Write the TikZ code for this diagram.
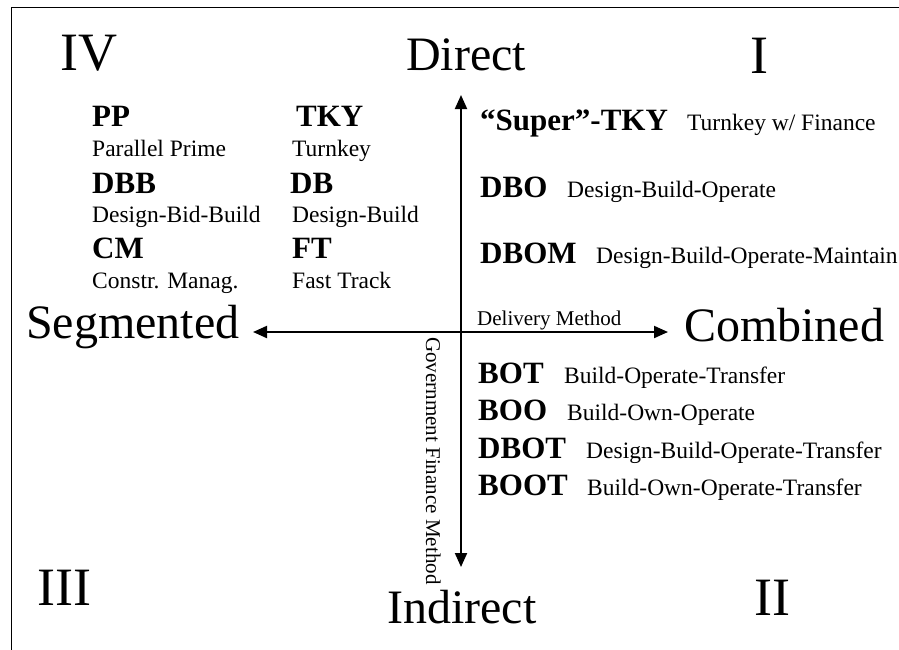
\documentclass[tikz,border=0pt]{standalone}
\usepackage{fontspec}
\setmainfont{Liberation Serif}
\usetikzlibrary{arrows.meta}
\begin{document}
\begin{tikzpicture}[x=1pt, y=-1pt,
    quad/.style={anchor=base west, inner sep=0pt, font=\fontsize{54}{60}\selectfont},
    pole/.style={anchor=base west, inner sep=0pt, font=\fontsize{48}{54}\selectfont},
    abbr/.style={anchor=base west, inner sep=0pt, font=\fontsize{31}{36}\selectfont\bfseries},
    desc/.style={anchor=base west, inner sep=0pt, font=\fontsize{23.5}{28}\selectfont},
    axlabel/.style={anchor=base west, inner sep=0pt, font=\fontsize{21}{24}\selectfont},
    axis/.style={line width=2pt, {Triangle[length=14pt,width=12pt]}-{Triangle[length=14pt,width=12pt]}}
]
\useasboundingbox (0,0) rectangle (899,649);
\clip (0,0) rectangle (899,649);
\draw[line width=1.5pt] (11.5,660) -- (11.5,7.5) -- (910,7.5);

% quadrants and poles
\node[quad] (q4) at (60,70) {IV};
\node[quad] (q1) at (750,73) {I};
\node[quad] (q3) at (37,605) {III};
\node[quad] (q2) at (754,615) {II};
\node[pole] (direct) at (406,70) {Direct};
\node[pole] (indirect) at (387,623) {Indirect};
\node[pole] (segmented) at (26,338) {Segmented};
\node[pole] (combined) at (684,341) {Combined};

% axes
\coordinate (west) at (253,332);
\coordinate (east) at (668,332);
\coordinate (north) at (461,95);
\coordinate (south) at (461,567);
\draw[axis] (west) -- (east);
\draw[axis] (north) -- (south);
\node[axlabel] (delivery) at (477,325) {Delivery Method};
\node[axlabel, rotate=-90] (finance) at (426,337) {Government Finance Method};

% quadrant IV
\node[abbr] (pp) at (92,126) {PP};
\node[desc] (ppd) at (92,156) {Parallel Prime};
\node[abbr] (dbb) at (92,193) {DBB};
\node[desc] (dbbd) at (92,222) {Design-Bid-Build};
\node[abbr] (cm) at (92,258) {CM};
\node[desc] (cmd) at (92,288) {Constr. Manag.};
\node[abbr] (tky) at (296,126) {TKY};
\node[desc] (tkyd) at (292,156) {Turnkey};
\node[abbr] (db) at (290,193) {DB};
\node[desc] (dbd) at (292,222) {Design-Build};
\node[abbr] (ft) at (292,258) {FT};
\node[desc] (ftd) at (292,288) {Fast Track};

% quadrant I
\node[abbr] (stky) at (480,130) {“Super”-TKY};
\node[desc] (stkyd) at (687,130) {Turnkey w/ Finance};
\node[abbr] (dbo) at (480,197) {DBO};
\node[desc] (dbod) at (567,197) {Design-Build-Operate};
\node[abbr] (dbom) at (480,263) {DBOM};
\node[desc] (dbomd) at (596,263) {Design-Build-Operate-Maintain};

% quadrant II
\node[abbr] (bot) at (478,383) {BOT};
\node[desc] (botd) at (564,383) {Build-Operate-Transfer};
\node[abbr] (boo) at (478,420) {BOO};
\node[desc] (bood) at (567,420) {Build-Own-Operate};
\node[abbr] (dbot) at (478,458) {DBOT};
\node[desc] (dbotd) at (586,458) {Design-Build-Operate-Transfer};
\node[abbr] (boot) at (478,495) {BOOT};
\node[desc] (bootd) at (587,495) {Build-Own-Operate-Transfer};
\end{tikzpicture}
\end{document}
